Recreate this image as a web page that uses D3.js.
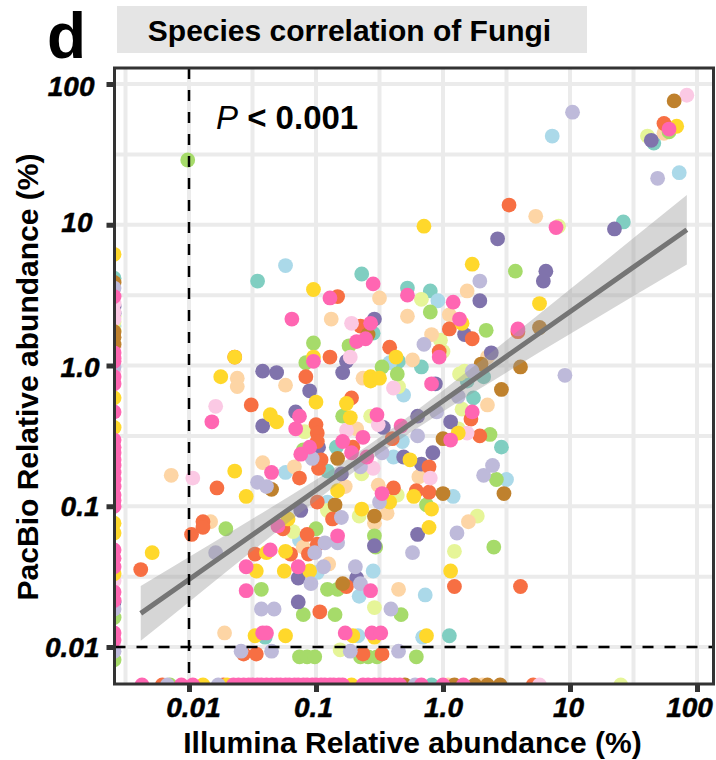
<!DOCTYPE html>
<html>
<head>
<meta charset="utf-8">
<script src="https://cdnjs.cloudflare.com/ajax/libs/d3/7.8.5/d3.min.js"></script>
<style>
html,body{margin:0;padding:0;background:#fff}
text{font-family:"Liberation Sans",Arial,sans-serif}
</style>
</head>
<body>
<svg id="chart" width="716" height="760"></svg>
<script>
// All values are log10(relative abundance %), [Illumina, PacBio]
const pseudoZeroX = -2.59, pseudoZeroY = -2.27;

const teal = [[-1.46,.60],[-.64,.65],[-.28,.55],[-.10,.53],[1.42,1.02],[1.66,1.58],[-.84,-.58],[-.91,-.75],[-.55,.23],[-.35,.03],[-.17,-.01],[.32,-.08],[.19,-.11],[.24,-.23],[.46,-.58],[.05,-1.92],[-1.40,-1.93]];
const tealLeft = [.62];
const tealBottom = [-.09];

const lightBlue = [[-1.24,.71],[.86,1.63],[1.86,1.37],[-.04,.46],[-.42,.02],[-.31,-.21],[-.32,-.54],[-.39,-.65],[-1.24,-.76],[-.91,-.97],[-1.13,-1.24],[-.99,-1.47],[-.66,-1.64],[-.55,-1.46],[-.14,-1.63],[-.16,-1.93],[-.67,-1.92],[.08,-.93],[.50,-.81]];
const lightBlueLeft = [.28];
const lightBlueBottom = [];

const yellowGreen = [[1.61,1.63],[.91,.99],[-.17,.47],[-.02,.18],[0,.10],[-1.09,-.47],[-.35,-.15],[.13,-.06],[.17,-.04],[.15,-.31],[.12,-.45],[-.57,-.36],[-.36,-.92],[-.64,-.77],[-.91,-1.03],[-.66,-1.07],[-1.18,-1.18],[.27,-1.07],[.09,-1.32],[-.54,-1.72],[-.81,-2.02]];
const yellowGreenLeft = [.35,.31,.25];
const yellowGreenBottom = [1.40];

const lightOrange = [[1.74,1.65],[.73,1.06],[-.88,.33],[-1.62,-.09],[-1.62,-.15],[-1.24,-.14],[-.50,.48],[.19,.53],[-.28,.35],[.05,.36],[-.09,.22],[-.24,.04],[-.63,-.09],[-.68,-.45],[.35,.06],[.35,-.28],[-.19,-.79],[-1.42,-.69],[-1.17,-.72],[-.77,-.86],[-1.83,-1.11],[-2.14,-.78],[-1.10,-1.29],[-.90,-1.41],[-1.72,-1.90],[-.51,-.85],[-.44,-1.05],[-.54,-1.12],[.20,-1.11],[-.35,-1.59]];
const lightOrangeLeft = [];
const lightOrangeBottom = [.04,.31];

const green = [[-2.01,1.46],[1.78,1.66],[.57,.67],[.34,.25],[-.10,.38],[-1.02,.16],[-.74,.14],[-1.08,.02],[-.48,-.01],[-.36,-.06],[-.79,-.36],[-1.10,-.60],[.37,-.49],[.42,-.81],[-.13,-.99],[-1.71,-1.16],[-1.0,-1.16],[-.54,-1.21],[-.53,-1.29],[.40,-1.29],[-1.43,-1.59],[-.91,-1.59],[-.83,-1.59],[-1.10,-1.77],[-.85,-1.77],[-.33,-1.77],[-1.13,-2.07],[-1.07,-2.07],[-1.01,-2.07],[-.65,-2.07],[-.59,-2.07],[-.52,-2.07],[-.21,-2.07]];
const greenLeft = [-1.79,-2.09];
const greenBottom = [-2.15];

const purple = [[1.64,1.60],[.43,.90],[1.35,.97],[.81,.67],[.79,.60],[.29,.46],[.17,.22],[-.54,.33],[-.76,.03],[-.79,-.05],[-1.42,-.04],[-1.31,-.05],[-1.05,-.18],[-.06,-.13],[-1.16,-.33],[-1.42,-.43],[-.98,-.58],[.38,.09],[-.20,-.36],[.06,-.40],[-.47,-.44],[-.08,-.62],[-.17,-.70],[-.31,-.65],[-.80,-.77],[-1.12,-1.03],[-.20,-1.20],[-.54,-1.28],[-1.14,-1.51],[-.68,-1.51],[-1.14,-1.68]];
const purpleLeft = [.42,.37,-1.68];
const purpleBottom = [];

const orange = [[1.74,1.72],[.52,1.14],[-.83,.49],[-.65,.28],[-1.64,.06],[-.89,.06],[-1.08,-.08],[-.72,-.23],[-1.51,-.28],[-1.0,-.42],[-.99,-.48],[-.99,-.54],[-.96,-.67],[-.98,-.73],[-1.13,-.80],[-.71,-.58],[-1.78,-.87],[.05,.26],[.23,.19],[-.42,.13],[-.03,.10],[.59,.24],[.22,-.38],[-.40,-.52],[-.11,-.72],[.29,-.50],[-.39,-.87],[-.21,-.89],[-.11,-.90],[-.99,-.97],[-.87,-1.09],[-1.26,-1.16],[-1.07,-1.20],[-.99,-1.27],[-1.89,-1.11],[-1.89,-1.15],[-1.98,-1.20],[-2.38,-1.45],[-1.48,-1.34],[-1.20,-1.34],[-1.06,-1.34],[-.97,-1.75],[-.76,-1.57],[.09,-1.57],[.61,-1.57],[-1.57,-2.05],[-1.47,-2.05],[-.63,-2.05],[-.48,-2.05]];
const orangeLeft = [];
const orangeBottom = [-2.21,-1.73,.71];

const lightPink = [[1.92,1.92],[-.72,.30],[-.73,.06],[-1.79,-.29],[-.76,-.46],[-.39,-.16],[-.51,-.42],[.19,-.48],[-.10,-.80],[-.55,-.73],[-1.97,-.80]];
const lightPinkLeft = [.44,.38,.33,.13,-.04,-1.53,-2.0];
const lightPinkBottom = [.76];

const brown = [[1.82,1.88],[.76,.27],[-.59,.22],[.30,.01],[.61,-.01],[.46,-.17],[0,-.52],[-.83,-.66],[-1.35,-.88],[-.85,-.99],[0,-.91],[.48,-.91],[-.54,-1.07],[-.79,-1.55]];
const brownLeft = [.59,.24,.20,.15];
const brownBottom = [-.30,.09,.25,.35,.45];

const yellow = [[1.84,1.70],[-.15,.99],[.23,.72],[.76,.44],[-1.02,.54],[.15,.30],[-.37,.06],[-.57,-.08],[-.57,-.11],[-.50,-.09],[-1.64,.06],[-1.02,.06],[-1.75,-.08],[-1.0,-.26],[-.76,-.27],[-.73,-.37],[-1.36,-.35],[-1.31,-.40],[.12,-.48],[-1.64,-.75],[-1.55,-.93],[-.83,-.89],[-.26,-.67],[-.23,-.93],[-.42,-.97],[-.64,-1.02],[-.09,-1.02],[-.11,-1.15],[-1.22,-1.09],[-2.29,-1.33],[-1.39,-1.33],[-1.24,-1.32],[-1.47,-1.46],[-1.25,-1.46],[-1.05,-1.46],[.06,-1.46],[-1.48,-1.92],[-1.24,-1.92],[-.71,-1.92],[-.54,-1.93],[-.13,-1.92]];
const yellowLeft = [.79,-.23,-.44,-1.12,-1.19,-1.48];
const yellowBottom = [-1.89,-1.70,-.72];

const lilac = [[1.02,1.80],[1.69,1.33],[.29,.60],[-.15,.15],[.23,-.04],[.96,-.07],[.12,-.22],[-.05,-.33],[-.20,-.50],[-.48,-.62],[-.65,-.72],[-.50,-.97],[.32,-.78],[.39,-.71],[.11,-1.19],[-.24,-1.33],[-1.03,-.66],[-1.46,-.83],[-1.39,-.86],[-.80,-1.08],[-.93,-1.26],[-.83,-1.26],[-1.79,-1.33],[-1.01,-1.33],[-.94,-1.43],[-.69,-1.43],[-1.04,-1.55],[-.65,-1.55],[-1.43,-1.73],[-1.33,-1.73],[-.41,-1.73],[-1.59,-2.03],[-1.35,-2.03],[-.73,-2.03],[-.35,-2.03]];
const lilacLeft = [.55,-.01,-1.73,-2.03];
const lilacBottom = [-2.17,-1.77,-.22];

const pink = [[1.78,1.68],[.89,.98],[.59,.26],[-.55,.58],[-.89,.48],[-1.19,.33],[-.28,.50],[.08,.45],[.13,.33],[-.57,.30],[-.68,.17],[-.61,.19],[-1.02,.03],[-.03,.06],[-.09,-.13],[.23,-.33],[-.52,-.35],[-1.82,-.40],[-1.13,-.36],[-1.16,-.45],[-.33,-.43],[.06,-.53],[-.63,-.51],[-.79,-.54],[-1.05,-.58],[-1.12,-.63],[-.72,-.62],[-.60,-.65],[-1.35,-.76],[-.48,-.91],[-1.30,-1.14],[-.83,-1.21],[-1.36,-1.31],[-1.55,-1.43],[-1.14,-1.43],[-1.55,-1.60],[-.57,-1.60],[-1.42,-1.90],[-1.39,-1.90],[-.77,-1.90],[-.56,-1.90],[-.49,-1.90]];
const pinkLeft = [.49,.09,.03,.05,-.08,-.13,-.33,-.53,-.58,-.62,-.67,-.71,-.76,-.81,-.86,-.92,-.96,-1.0,-1.31,-1.37,-1.43,-1.61,-1.67,-1.90,-1.95];
const pinkBottom = [-2.37,-2.06,-1.97,-1.65,-1.61,-1.57,-1.53,-1.50,-1.46,-1.43,-1.39,-1.35,-1.31,-1.28,-1.24,-1.21,-1.17,-1.14,-1.10,-1.07,-1.03,-1.0,-.96,-.93,-.89,-.86,-.82,-.79,-.63,-.59,-.54,-.50,-.46,-.42,-.38,-.34,-.17,0,.16];

// draw order, colours
const seriesNames = ["teal","lightBlue","yellowGreen","lightOrange","green","purple","orange","lightPink","brown","yellow","lilac","pink"];
const seriesColors = ["#80CEC1","#ABD9E9","#E6F598","#FDD5A5","#A6DB6A","#8073AC","#F76F43","#FBC9E4","#BF812D","#FFD82B","#BEBADA","#FF66B2"];
const seriesPoints = [teal,lightBlue,yellowGreen,lightOrange,green,purple,orange,lightPink,brown,yellow,lilac,pink];
const seriesLeft = [tealLeft,lightBlueLeft,yellowGreenLeft,lightOrangeLeft,greenLeft,purpleLeft,orangeLeft,lightPinkLeft,brownLeft,yellowLeft,lilacLeft,pinkLeft];
const seriesBottom = [tealBottom,lightBlueBottom,yellowGreenBottom,lightOrangeBottom,greenBottom,purpleBottom,orangeBottom,lightPinkBottom,brownBottom,yellowBottom,lilacBottom,pinkBottom];

// regression fit and its confidence band (log10 units)
const fitX   = [-2.38,-2,-1.5,-1,-.5,0,.5,1,1.5,1.92];
const fitY   = [-1.761,-1.52,-1.203,-.886,-.569,-.252,.065,.382,.699,.965];
const fitLow = [-1.956,-1.68,-1.317,-.961,-.626,-.327,-.049,.223,.493,.718];
const fitHigh= [-1.566,-1.36,-1.089,-.811,-.512,-.177,.179,.541,.905,1.212];

const xTickValues = [.01,.1,1,10,100];
const xTickLabels = ["0.01","0.1","1.0","10","100"];
const yTickValues = [.01,.1,1,10,100];
const yTickLabels = ["0.01","0.1","1.0","10","100"];
const gridLog = [-2.5,-2,-1.5,-1,-.5,0,.5,1,1.5,2];
const gridLogY = [-2,-1.5,-1,-.5,0,.5,1,1.5,2];
const thresholdValue = 0.01;

const titleText = "Species correlation of Fungi";
const panelLetter = "d";
const xTitle = "Illumina Relative abundance (%)";
const yTitle = "PacBio Relative abundance (%)";

const P = {l:114.5,r:713.5,t:68,b:684};
const x = d3.scaleLog().domain([.01,100]).range([189,697]);
const y = d3.scaleLog().domain([.01,100]).range([647,84]);
const X = v => x(Math.pow(10,v));
const Y = v => y(Math.pow(10,v));

const svg = d3.select("#chart");
svg.append("defs").append("clipPath").attr("id","panel").append("rect")
  .attr("x",P.l).attr("y",P.t).attr("width",P.r-P.l).attr("height",P.b-P.t);

// strip + panel letter
svg.append("rect").attr("x",117).attr("y",6).attr("width",470).attr("height",47).attr("fill","#e5e5e5");
svg.append("text").attr("x",349.5).attr("y",41).attr("text-anchor","middle")
  .attr("font-size",26).attr("font-size",30).attr("font-weight","bold").attr("fill","#000").text(titleText);
svg.append("text").attr("x",47).attr("y",58).attr("font-size",64).attr("font-weight","bold").attr("fill","#000").text(panelLetter);

const plot = svg.append("g").attr("clip-path","url(#panel)");
// grid
plot.selectAll("line.gx").data(gridLog).join("line").attr("class","gx")
  .attr("x1",X).attr("x2",X).attr("y1",P.t).attr("y2",P.b).attr("stroke","#ebebeb").attr("stroke-width",4);
plot.selectAll("line.gy").data(gridLogY).join("line").attr("class","gy")
  .attr("y1",Y).attr("y2",Y).attr("x1",P.l).attr("x2",P.r).attr("stroke","#ebebeb").attr("stroke-width",4);

// points
seriesNames.forEach((name,i)=>{
  const pts = seriesPoints[i]
    .concat(seriesLeft[i].map(v=>[pseudoZeroX,v]))
    .concat(seriesBottom[i].map(v=>[v,pseudoZeroY]));
  plot.append("g").attr("class",name).selectAll("circle").data(pts).join("circle")
    .attr("cx",d=>X(d[0])).attr("cy",d=>Y(d[1])).attr("r",7.4).attr("fill",seriesColors[i]);
});

// band and fit
plot.append("path").datum(fitX.map((v,i)=>[v,fitLow[i],fitHigh[i]]))
  .attr("d",d3.area().x(d=>X(d[0])).y0(d=>Y(d[1])).y1(d=>Y(d[2])).curve(d3.curveMonotoneX))
  .attr("fill","#999").attr("fill-opacity",.4);
plot.append("path").datum(fitX.map((v,i)=>[v,fitY[i]]))
  .attr("d",d3.line().x(d=>X(d[0])).y(d=>Y(d[1])))
  .attr("fill","none").attr("stroke","#757575").attr("stroke-width",5);

// thresholds
plot.append("line").attr("x1",x(thresholdValue)).attr("x2",x(thresholdValue)).attr("y1",P.t).attr("y2",P.b)
  .attr("stroke","#000").attr("stroke-width",2.5).attr("stroke-dasharray","11 11");
plot.append("line").attr("y1",y(thresholdValue)).attr("y2",y(thresholdValue)).attr("x1",P.l).attr("x2",P.r)
  .attr("stroke","#000").attr("stroke-width",2.5).attr("stroke-dasharray","11 11");

// border
svg.append("rect").attr("x",P.l).attr("y",P.t).attr("width",P.r-P.l).attr("height",P.b-P.t)
  .attr("fill","none").attr("stroke","#333").attr("stroke-width",3);

// axes
const xAxis = svg.append("g").attr("transform",`translate(0,${P.b})`)
  .call(d3.axisBottom(x).tickValues(xTickValues).tickFormat((d,i)=>xTickLabels[i]).tickSize(8).tickPadding(5));
const yAxis = svg.append("g").attr("transform",`translate(${P.l},0)`)
  .call(d3.axisLeft(y).tickValues(yTickValues).tickFormat((d,i)=>yTickLabels[i]).tickSize(8).tickPadding(12));
[xAxis,yAxis].forEach(a=>{
  a.select(".domain").remove();
  a.selectAll(".tick line").attr("stroke","#333").attr("stroke-width",5);
  a.selectAll(".tick text").attr("font-size",28).attr("font-weight","bold").attr("font-style","italic")
    .attr("fill","#000").attr("stroke","#000").attr("stroke-width",.5)
    .style("font-family",'"Liberation Sans",Arial,sans-serif');
});
const xLabelShift = [4,-3,0,-2,-8];
xAxis.selectAll(".tick text").attr("dx",(d,i)=>xLabelShift[i]);
const yLabelShiftX = [5,5,5,-2,0];
const yLabelShiftY = [1,0,2,-2,3];
yAxis.selectAll(".tick text").attr("transform",(d,i)=>`translate(${yLabelShiftX[i]},${yLabelShiftY[i]})`);

// axis titles
svg.append("text").attr("x",412.5).attr("y",753).attr("text-anchor","middle")
  .attr("font-size",30).attr("font-weight","bold").attr("fill","#000").text(xTitle);
svg.append("text").attr("transform","translate(38,377) rotate(-90)").attr("text-anchor","middle")
  .attr("font-size",30).attr("font-weight","bold").attr("fill","#000").text(yTitle);

// annotation
const ann = svg.append("text").attr("x",216).attr("y",129).attr("font-size",33).attr("font-weight","bold").attr("fill","#000");
ann.append("tspan").attr("font-style","italic").attr("font-weight","normal").text("P");
ann.append("tspan").text(" < 0.001");
</script>
</body>
</html>
